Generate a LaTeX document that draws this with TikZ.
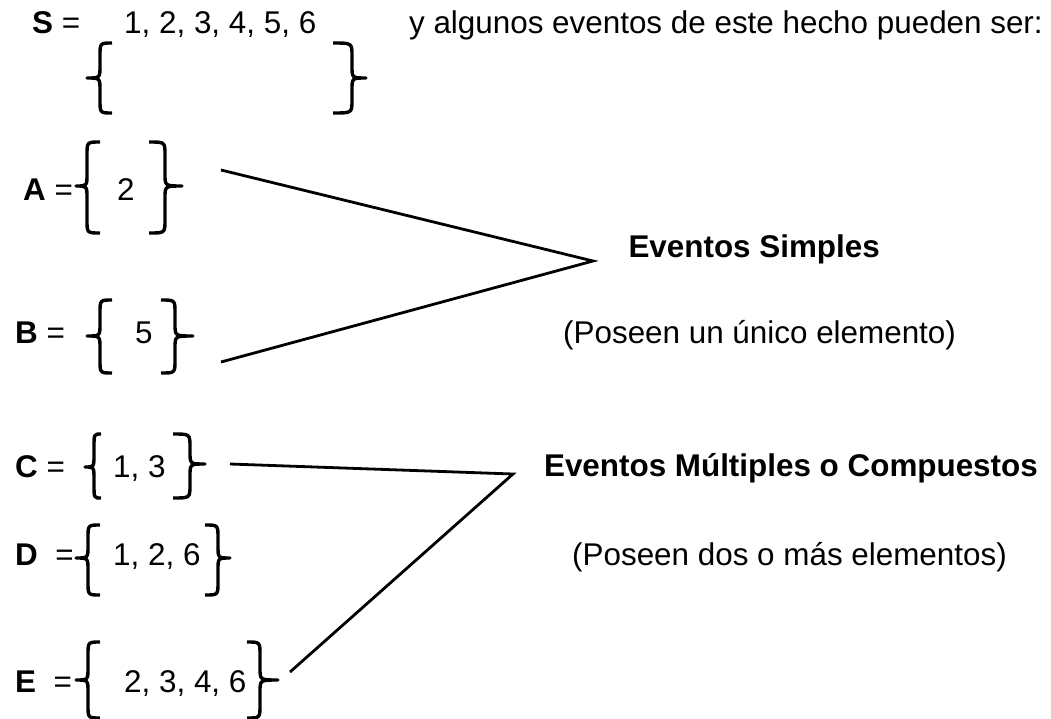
\documentclass[tikz,border=0pt]{standalone}
\usepackage{fontspec}
\setmainfont{Liberation Sans}

% llave: {x punta final}{x tallo}{x pico}{y arriba}{y pico}{y abajo}
\newcommand{\llave}[6]{%
  \draw[llave] (#1,#4) .. controls (#2,#4) .. (#2,#4+13) -- (#2,#5-12)
    .. controls (#2,#5) .. (#3,#5) .. controls (#2,#5) .. (#2,#5+12)
    -- (#2,#6-13) .. controls (#2,#6) .. (#1,#6);}

\begin{document}
\begin{tikzpicture}[x=1pt, y=-1pt, every node/.style={font=\fontsize{31.4}{37}\selectfont}]
    \tikzstyle{txt} = [inner sep=0pt, anchor=base west]
    \tikzstyle{txtr} = [inner sep=0pt, anchor=base east]
    \tikzstyle{llave} = [line width=3.4pt, line join=round]
    \tikzstyle{rama} = [line width=2.8pt, line join=miter]
    \useasboundingbox (0,0) rectangle (1051,718);

    % espacio muestral
    \node [txt] (S) at (32,33) {\textbf{S} =};
    \node [txt] (setS) at (124,33) {1, 2, 3, 4, 5, 6};
    \node [txtr] (intro) at (1043,33) {y algunos eventos de este hecho pueden ser:};
    \llave{112}{100}{87}{43}{78}{113}
    \llave{333}{352}{366}{43}{78}{113}

    % eventos
    \node [txt] (A) at (23,200) {\textbf{A} =};
    \node [txt] (setA) at (117,200) {2};
    \llave{100}{87}{76}{142}{186}{233}
    \llave{149}{165}{182}{142}{186}{233}

    \node [txt] (B) at (15,343) {\textbf{B} =};
    \node [txt] (setB) at (135,343) {5};
    \llave{112}{100}{87}{300}{336}{373}
    \llave{161}{175}{193}{300}{336}{373}

    \node [txt] (C) at (15,477) {\textbf{C} =};
    \node [txt] (setC) at (113,477) {1, 3};
    \llave{101}{94}{85}{434}{467}{498}
    \llave{173}{190}{205}{434}{464}{498}

    \node [txt] (D) at (15,565) {\textbf{D}\ \ =};
    \node [txt] (setD) at (113,565) {1, 2, 6};
    \llave{100}{88}{76}{525}{558}{595}
    \llave{205}{218}{230}{525}{558}{595}

    \node [txt] (E) at (15,692) {\textbf{E}\ \ =};
    \node [txt] (setE) at (124,692) {2, 3, 4, 6};
    \llave{100}{88}{76}{642}{680}{718}
    \llave{247}{260}{278}{642}{680}{718}

    % clasificacion
    \node [txtr] (simples) at (880,257) {\textbf{Eventos Simples}};
    \node [txt] (nota1) at (563,343) {(Poseen un único elemento)};
    \node [txtr] (multiples) at (1038,476) {\textbf{Eventos Múltiples o Compuestos}};
    \node [txtr] (nota2) at (1007,565) {(Poseen dos o más elementos)};

    \coordinate (pA) at (221,170);
    \coordinate (pB) at (221,362);
    \coordinate (vs) at (593,261);
    \coordinate (pC) at (230,464);
    \coordinate (pE) at (290,672);
    \coordinate (vm) at (513,474);

    \draw [rama] (pA) -- (vs) -- (pB);
    \draw [rama] (pC) -- (vm) -- (pE);
\end{tikzpicture}
\end{document}
